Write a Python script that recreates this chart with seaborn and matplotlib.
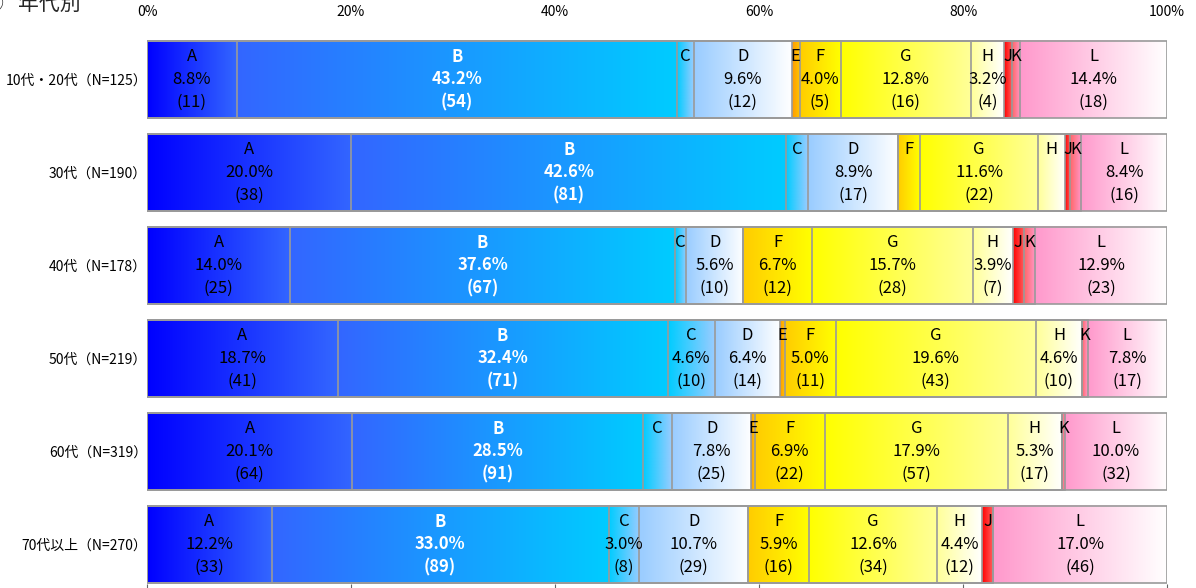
import numpy as np
import pandas as pd
import matplotlib
matplotlib.use('Agg')
import matplotlib.pyplot as plt
from matplotlib.colors import LinearSegmentedColormap
import seaborn as sns

groups = ['10代・20代（N=125）', '30代（N=190）', '40代（N=178）',
          '50代（N=219）', '60代（N=319）', '70代以上（N=270）']
letters = ['A', 'B', 'C', 'D', 'E', 'F', 'G', 'H', 'J', 'K', 'L']

# percentages per answer (one value per age group)
pct_a = [8.8, 20.0, 14.0, 18.7, 20.1, 12.2]
pct_b = [43.2, 42.6, 37.6, 32.4, 28.5, 33.0]
pct_c = [1.6, 2.1, 1.1, 4.6, 2.8, 3.0]
pct_d = [9.6, 8.9, 5.6, 6.4, 7.8, 10.7]
pct_e = [0.8, 0.0, 0.0, 0.5, 0.3, 0.0]
pct_f = [4.0, 2.1, 6.7, 5.0, 6.9, 5.9]
pct_g = [12.8, 11.6, 15.7, 19.6, 17.9, 12.6]
pct_h = [3.2, 2.6, 3.9, 4.6, 5.3, 4.4]
pct_j = [0.8, 0.5, 1.1, 0.0, 0.0, 1.1]
pct_k = [0.8, 1.1, 1.1, 0.5, 0.3, 0.0]
pct_l = [14.4, 8.4, 12.9, 7.8, 10.0, 17.0]

# counts per answer
cnt_a = [11, 38, 25, 41, 64, 33]
cnt_b = [54, 81, 67, 71, 91, 89]
cnt_c = [2, 4, 2, 10, 9, 8]
cnt_d = [12, 17, 10, 14, 25, 29]
cnt_e = [1, 0, 0, 1, 1, 0]
cnt_f = [5, 4, 12, 11, 22, 16]
cnt_g = [16, 22, 28, 43, 57, 34]
cnt_h = [4, 5, 7, 10, 17, 12]
cnt_j = [1, 1, 2, 0, 0, 3]
cnt_k = [1, 2, 2, 1, 1, 0]
cnt_l = [18, 16, 23, 17, 32, 46]

x_ticks = [0, 20, 40, 60, 80, 100]
x_labels = ['0%', '20%', '40%', '60%', '80%', '100%']

# gradient (left colour, right colour) for each answer
fills = {
    'A': ('#0000ff', '#3366ff'),
    'B': ('#3366ff', '#00ccff'),
    'C': ('#00ccff', '#99ccff'),
    'D': ('#99ccff', '#ffffff'),
    'E': ('#ff9900', '#ffcc00'),
    'F': ('#ffcc00', '#ffff00'),
    'G': ('#ffff00', '#ffff99'),
    'H': ('#ffff99', '#ffffff'),
    'J': ('#ff0000', '#ff6666'),
    'K': ('#ff6666', '#ff99cc'),
    'L': ('#ff99cc', '#ffffff'),
}


def main():
    sns.set_theme(style='white')
    plt.rcParams['font.family'] = ['Noto Sans CJK JP', 'DejaVu Sans']

    pct = pd.DataFrame(dict(zip(letters, [pct_a, pct_b, pct_c, pct_d, pct_e, pct_f,
                                          pct_g, pct_h, pct_j, pct_k, pct_l])), index=groups)
    cnt = pd.DataFrame(dict(zip(letters, [cnt_a, cnt_b, cnt_c, cnt_d, cnt_e, cnt_f,
                                          cnt_g, cnt_h, cnt_j, cnt_k, cnt_l])), index=groups)
    share = pct.div(pct.sum(axis=1), axis=0) * 100
    right = share.cumsum(axis=1)
    left = right - share

    fig = plt.figure(figsize=(11.96, 5.88), dpi=100)
    ax = fig.add_axes([147 / 1196, 4 / 588, 1020 / 1196, 551 / 588])

    bar_h = 0.83
    # stacked bars as overlapping cumulative bars, drawn as outlines
    for letter in reversed(letters):
        d = pd.DataFrame({'group': groups, 'end': right[letter].values})
        sns.barplot(data=d, x='end', y='group', order=groups, orient='y',
                    color='#9a9a9a', width=bar_h, errorbar=None, ax=ax)
    for p in ax.patches:
        p.set_facecolor('none')
        p.set_edgecolor('#9a9a9a')
        p.set_linewidth(1.2)
        p.set_zorder(2)

    grad = np.linspace(0, 1, 256).reshape(1, -1)
    for i, g in enumerate(groups):
        for letter in letters:
            if pct.loc[g, letter] <= 0:
                continue
            cmap = LinearSegmentedColormap.from_list(letter, list(fills[letter]))
            ax.imshow(grad, cmap=cmap, aspect='auto', interpolation='bilinear',
                      extent=(left.loc[g, letter], right.loc[g, letter],
                              i + bar_h / 2, i - bar_h / 2), zorder=1)

            xc = (left.loc[g, letter] + right.loc[g, letter]) / 2
            is_b = letter == 'B'
            kw = dict(ha='center', va='center', fontsize=12, zorder=5,
                      color='white' if is_b else 'black',
                      fontweight='bold' if is_b else 'normal')
            ax.text(xc, i - 0.247, letter, **kw)
            if pct.loc[g, letter] >= 2.95:
                ax.text(xc, i, f'{pct.loc[g, letter]:.1f}%', **kw)
                ax.text(xc, i + 0.247, f'({cnt.loc[g, letter]})', **kw)

    ax.set_xlim(0, 100)
    ax.set_ylim(5.425, -0.5)
    ax.set_xlabel('')
    ax.set_ylabel('')
    sns.despine(ax=ax, left=True, bottom=True)
    ax.set_xticks(x_ticks)
    ax.set_xticklabels([])
    ax.tick_params(axis='x', bottom=True, length=4, width=0.8, color='#666666',
                   labelbottom=False)
    ax.tick_params(axis='y', left=False, length=0, pad=0, labelsize=10, labelcolor='black')

    top = ax.secondary_xaxis('top')
    top.set_xticks(x_ticks, labels=x_labels)
    top.tick_params(length=0, pad=10, labelsize=10, labelcolor='black')
    top.spines['top'].set_visible(False)

    fig.text(3 / 1196, 1 - 4 / 588, '②', fontsize=15, ha='right', va='center')
    fig.text(18 / 1196, 1 - 4 / 588, '年代別', fontsize=15, ha='left', va='center')

    fig.savefig('out.png', dpi=100)
    plt.close(fig)


if __name__ == '__main__':
    main()
